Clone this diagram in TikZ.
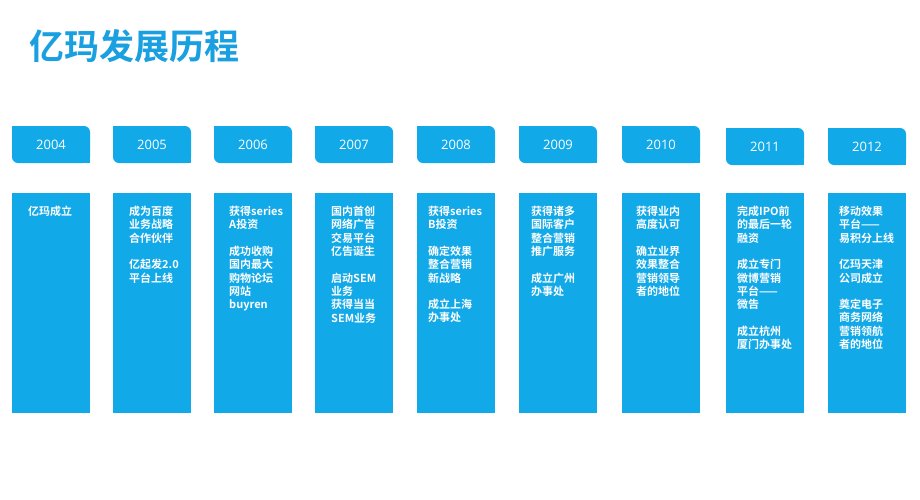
\documentclass[tikz,border=0pt]{standalone}
\usepackage{fontspec}
\setmainfont{Open Sans}
\newfontfamily\cjk{Noto Sans CJK SC}
\newfontfamily\cjkb{Noto Sans CJK SC Bold}
\definecolor{bl}{HTML}{12A9E8}
\definecolor{tt}{HTML}{1AA0E0}
\tikzset{
 colbox/.style={fill=bl, draw=none, minimum width=78pt, minimum height=220pt, inner sep=0pt, anchor=north west},
 coltext/.style={anchor=north west, align=left, inner sep=0pt, text=white, font=\cjkb\fontsize{11}{13.3}\selectfont}
}
\begin{document}
\begin{tikzpicture}[x=1pt,y=-1pt]
\useasboundingbox (0,0) rectangle (920,499);
\fill[white] (0,0) rectangle (920,499);
\node[anchor=west, text=tt, font=\cjkb\fontsize{35}{37}\selectfont, inner sep=0pt] (title) at (29,46) {亿玛发展历程};
\foreach \x/\yr/\dy [count=\i] in {12/2004/0,113/2005/0,214/2006/0,315/2007/0,417/2008/0,519/2009/0,622/2010/0,726/2011/2,828/2012/2}{
  \fill[bl, rounded corners=6pt] (\x,126+\dy) rectangle (\x+78,163+\dy);
  \fill[bl] (\x,126+\dy) rectangle (\x+10,136+\dy);
  \fill[bl] (\x+68,153+\dy) rectangle (\x+78,163+\dy);
  \node[text=white, font=\fontsize{13}{14}\selectfont, inner sep=0pt] (y\i) at (\x+39,144.5+\dy) {\yr};
  \node[colbox] (c\i) at (\x,193) {};
}
\node[coltext] (t1) at ([xshift=16pt,yshift=-13pt]c1.north west) {亿玛成立};
\node[coltext] (t2) at ([xshift=16pt,yshift=-13pt]c2.north west) {成为百度\\业务战略\\合作伙伴\\~\\亿起发2.0\\平台上线};
\node[coltext] (t3) at ([xshift=15pt,yshift=-13pt]c3.north west) {获得series\\A投资\\~\\成功收购\\国内最大\\购物论坛\\网站\\buyren};
\node[coltext] (t4) at ([xshift=16pt,yshift=-13pt]c4.north west) {国内首创\\网络广告\\交易平台\\亿告诞生\\~\\启动SEM\\业务\\获得当当\\SEM业务};
\node[coltext] (t5) at ([xshift=11pt,yshift=-13pt]c5.north west) {获得series\\B投资\\~\\确定效果\\整合营销\\新战略\\~\\成立上海\\办事处};
\node[coltext] (t6) at ([xshift=12pt,yshift=-13pt]c6.north west) {获得诸多\\国际客户\\整合营销\\推广服务\\~\\成立广州\\办事处};
\node[coltext] (t7) at ([xshift=14pt,yshift=-13pt]c7.north west) {获得业内\\高度认可\\~\\确立业界\\效果整合\\营销领导\\者的地位};
\node[coltext] (t8) at ([xshift=11pt,yshift=-13pt]c8.north west) {完成IPO前\\的最后一轮\\融资\\~\\成立专门\\微博营销\\平台——\\微告\\~\\成立杭州\\厦门办事处};
\node[coltext] (t9) at ([xshift=11pt,yshift=-13pt]c9.north west) {移动效果\\平台——\\易积分上线\\~\\亿玛天津\\公司成立\\~\\奠定电子\\商务网络\\营销领航\\者的地位};
\end{tikzpicture}
\end{document}
